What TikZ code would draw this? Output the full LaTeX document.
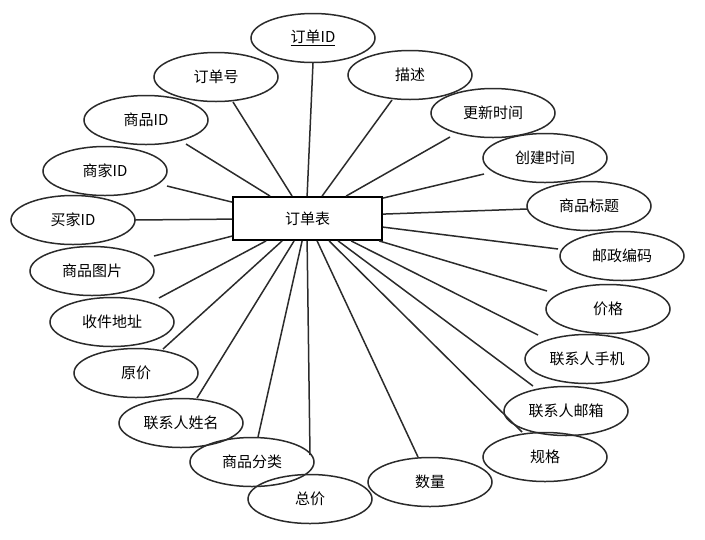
\documentclass[tikz,border=0pt]{standalone}
\usepackage{fontspec}
\setmainfont{Noto Sans CJK SC}
\usetikzlibrary{shapes.geometric,calc}
\definecolor{ink}{HTML}{2B2B2B}
\tikzset{
  attr/.style={draw=ink, line width=1.5pt, ellipse, minimum width=124pt, minimum height=49pt, inner sep=0pt, font=\fontsize{15}{18}\selectfont, text=black},
  ent/.style={draw=black, line width=1.8pt, rectangle, minimum width=149pt, minimum height=43pt, inner sep=0pt, font=\fontsize{15}{18}\selectfont},
  link/.style={draw=ink, line width=1.5pt}
}
\begin{document}
\begin{tikzpicture}[x=1pt,y=-1pt]
\useasboundingbox (0,0) rectangle (705,539);
\node[ent] (t) at (307.5,218.5) {订单表};
\node[attr] (e1) at (313,38) {\underline{订单ID}};
\node[attr] (e2) at (216,77) {订单号};
\node[attr] (e3) at (146,120) {商品ID};
\node[attr] (e4) at (105,171) {商家ID};
\node[attr] (e5) at (73,220) {买家ID};
\node[attr] (e6) at (92,271) {商品图片};
\node[attr] (e7) at (112,322) {收件地址};
\node[attr] (e8) at (136,373) {原价};
\node[attr] (e9) at (181,423) {联系人姓名};
\node[attr] (e10) at (252,462) {商品分类};
\node[attr] (e11) at (310,499) {总价};
\node[attr] (e12) at (430,482) {数量};
\node[attr] (e13) at (545,457) {规格};
\node[attr] (e14) at (566,411) {联系人邮箱};
\node[attr] (e15) at (587,359) {联系人手机};
\node[attr] (e16) at (608,309) {价格};
\node[attr] (e17) at (622,256) {邮政编码};
\node[attr] (e18) at (589,206) {商品标题};
\node[attr] (e19) at (545,158) {创建时间};
\node[attr] (e20) at (493,113) {更新时间};
\node[attr] (e21) at (410,75) {描述};
% top
\draw[link] ($(t.north west)+(75,0)$) -- ($(e1)+(0,25)$);
\draw[link] ($(t.north west)+(60,0)$) -- ($(e2)+(17,25)$);
\draw[link] ($(t.north west)+(38,0)$) -- ($(e3)+(40,24)$);
\draw[link] ($(t.north west)+(90,0)$) -- ($(e21)+(-18,25)$);
\draw[link] ($(t.north west)+(114,0)$) -- ($(e20)+(-43,24)$);
% left
\draw[link] ($(t.north west)+(0,6)$) -- ($(e4)+(62,15)$);
\draw[link] ($(t.north west)+(0,23)$) -- ($(e5)+(62,0)$);
\draw[link] ($(t.north west)+(0,40)$) -- ($(e6)+(62,-15)$);
% right
\draw[link] ($(t.north east)+(0,2)$) -- ($(e19)+(-61,16)$);
\draw[link] ($(t.north east)+(0,18)$) -- ($(e18)+(-62,3)$);
\draw[link] ($(t.north east)+(0,31)$) -- ($(e17)+(-64,-7)$);
% bottom
\draw[link] ($(t.south west)+(34,0)$) -- ($(e7)+(47,-24)$);
\draw[link] ($(t.south west)+(50,0)$) -- ($(e8)+(27,-24)$);
\draw[link] ($(t.south west)+(62,0)$) -- ($(e9)+(16,-25)$);
\draw[link] ($(t.south west)+(70,0)$) -- ($(e10)+(6,-25)$);
\draw[link] ($(t.south west)+(75,0)$) -- ($(e11)+(0,-44)$);
\draw[link] ($(t.south west)+(85,0)$) -- ($(e12)+(-12,-25)$);
\draw[link] ($(t.south west)+(97,0)$) -- ($(e13)+(-23,-25)$);
\draw[link] ($(t.south west)+(106,0)$) -- ($(e14)+(-33,-25)$);
\draw[link] ($(t.south west)+(119,0)$) -- ($(e15)+(-49,-24)$);
\draw[link] ($(t.south west)+(147,0)$) -- ($(e16)+(-61,-18)$);
\end{tikzpicture}
\end{document}
